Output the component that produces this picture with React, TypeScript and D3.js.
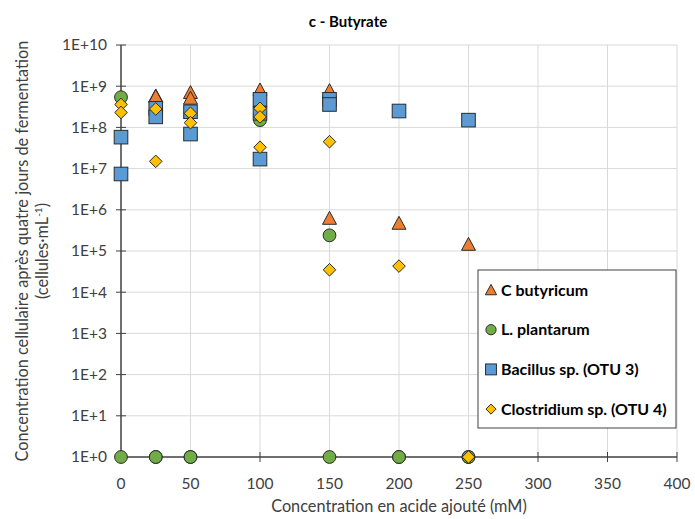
import React from "react";
import * as d3 from "d3";

// concentrations (mM) and cell counts (cells/mL)
const butyricumX = [25, 25, 50, 50, 100, 150, 150, 200, 250];
const butyricumY = [5.8e8, 5.6e8, 7e8, 5.1e8, 8.1e8, 7.8e8, 6.2e5, 4.7e5, 1.45e5];

const plantarumX = [0, 0, 25, 25, 50, 50, 100, 100, 150, 150, 200, 200, 250, 250];
const plantarumY = [5.4e8, 1, 1, 1, 1, 1, 2e8, 1.5e8, 2.4e5, 1, 1, 1, 1, 1];

const bacillusX = [0, 0, 25, 25, 50, 50, 100, 100, 100, 150, 150, 200, 250];
const bacillusY = [5.8e7, 7.4e6, 2.9e8, 1.8e8, 2.4e8, 6.9e7, 4.8e8, 2.2e8, 1.7e7, 4.8e8, 3.6e8, 2.5e8, 1.5e8];

const clostridiumX = [0, 0, 25, 25, 50, 50, 100, 100, 100, 150, 150, 200, 250, 250];
const clostridiumY = [3.6e8, 2.3e8, 2.8e8, 1.5e7, 2.2e8, 1.3e8, 2.9e8, 1.8e8, 3.3e7, 4.5e7, 3.5e4, 4.3e4, 1, 1];

const seriesNames = ["C butyricum", "L. plantarum", "Bacillus sp. (OTU 3)", "Clostridium sp. (OTU 4)"];
const xTicks = [0, 50, 100, 150, 200, 250, 300, 350, 400];
const yExponents = [0, 1, 2, 3, 4, 5, 6, 7, 8, 9, 10];

const W = 695;
const H = 519;
const left = 121;
const right = 677;
const top = 45;
const bottom = 457;
const font = "Lato, 'Open Sans', sans-serif";

type Kind = "triangle" | "circle" | "square" | "diamond";

const Marker: React.FC<{ kind: Kind; x: number; y: number; s?: number }> = ({ kind, x, y, s = 1 }) => {
  const stroke = "#2b2b2b";
  if (kind === "circle")
    return <circle cx={x} cy={y} r={6.4 * s} fill="#70AD47" stroke={stroke} strokeWidth={1} />;
  if (kind === "square") {
    const h = 6.8 * s;
    return <rect x={x - h} y={y - h} width={2 * h} height={2 * h} fill="#5B9BD5" stroke={stroke} strokeWidth={1} />;
  }
  if (kind === "diamond") {
    const h = 6.3 * s;
    return (
      <path
        d={`M${x},${y - h}L${x + h},${y}L${x},${y + h}L${x - h},${y}Z`}
        fill="#FFC000"
        stroke={stroke}
        strokeWidth={1}
      />
    );
  }
  const h = 7 * s;
  return (
    <path
      d={`M${x},${y - h}L${x + h},${y + h * 0.85}L${x - h},${y + h * 0.85}Z`}
      fill="#ED7D31"
      stroke={stroke}
      strokeWidth={1}
    />
  );
};

export default function App() {
  const x = d3.scaleLinear().domain([0, 400]).range([left, right]);
  const y = d3.scaleLog().domain([1, 1e10]).range([bottom, top]);

  const series: { kind: Kind; xs: number[]; ys: number[] }[] = [
    { kind: "triangle", xs: butyricumX, ys: butyricumY },
    { kind: "circle", xs: plantarumX, ys: plantarumY },
    { kind: "square", xs: bacillusX, ys: bacillusY },
    { kind: "diamond", xs: clostridiumX, ys: clostridiumY },
  ];
  const kinds: Kind[] = ["triangle", "circle", "square", "diamond"];

  const legend = { x: 478, y: 270, w: 198, h: 158 };

  return (
    <svg width={W} height={H} style={{ position: "absolute", left: 0, top: 0, background: "white" }} fontFamily={font}>
      <text x={348} y={27} textAnchor="middle" fontSize={15} fontWeight="bold" fill="#000">
        c - Butyrate
      </text>

      {/* gridlines */}
      {xTicks.slice(1).map((t) => (
        <line key={"gx" + t} x1={x(t)} x2={x(t)} y1={top} y2={bottom} stroke="#d9d9d9" strokeWidth={1} />
      ))}
      {yExponents.slice(1).map((e) => (
        <line key={"gy" + e} x1={left} x2={right} y1={y(Math.pow(10, e))} y2={y(Math.pow(10, e))} stroke="#d9d9d9" strokeWidth={1} />
      ))}

      {/* axes */}
      <line x1={left} x2={left} y1={top} y2={bottom} stroke="#404040" strokeWidth={1.5} />
      <line x1={left} x2={right} y1={bottom} y2={bottom} stroke="#404040" strokeWidth={1.5} />
      {yExponents.map((e) => (
        <g key={"ty" + e}>
          <line x1={left - 5} x2={left + 5} y1={y(Math.pow(10, e))} y2={y(Math.pow(10, e))} stroke="#404040" strokeWidth={1} />
          <text x={107} y={y(Math.pow(10, e))} dy="0.35em" textAnchor="end" fontSize={15.5} fill="#404040">
            {"1E+" + e}
          </text>
        </g>
      ))}
      {xTicks.map((t) => (
        <g key={"tx" + t}>
          <line x1={x(t)} x2={x(t)} y1={bottom - 5} y2={bottom + 5} stroke="#404040" strokeWidth={1} />
          <text x={x(t)} y={484} dy="0.35em" textAnchor="middle" fontSize={15.5} fill="#404040">
            {t}
          </text>
        </g>
      ))}

      <text x={(left + right) / 2} y={506} dy="0.35em" textAnchor="middle" fontSize={16.3} fill="#404040">
        Concentration en acide ajouté (mM)
      </text>
      <g transform={`translate(22,${(top + bottom) / 2}) rotate(-90)`}>
        <text x={0} y={0} dy="0.35em" textAnchor="middle" fontSize={16.3} fill="#404040">
          Concentration cellulaire après quatre jours de fermentation
        </text>
        <text x={0} y={20} dy="0.35em" textAnchor="middle" fontSize={16.3} fill="#404040">
          (cellules·mL<tspan dy="-6" fontSize={10}>-1</tspan>
          <tspan dy="6">)</tspan>
        </text>
      </g>

      {/* points */}
      {series.map((s, si) =>
        s.xs.map((xv, i) => <Marker key={si + "-" + i} kind={s.kind} x={x(xv)} y={y(s.ys[i])} />)
      )}

      {/* legend */}
      <rect x={legend.x} y={legend.y} width={legend.w} height={legend.h} fill="white" stroke="#404040" strokeWidth={1} />
      {seriesNames.map((name, i) => {
        const cy = 290 + i * 39.7;
        return (
          <g key={name}>
            <Marker kind={kinds[i]} x={491} y={cy} s={0.8} />
            <text x={501} y={cy} dy="0.35em" fontSize={16} fontWeight="bold" fill="#000">
              {name}
            </text>
          </g>
        );
      })}
    </svg>
  );
}
